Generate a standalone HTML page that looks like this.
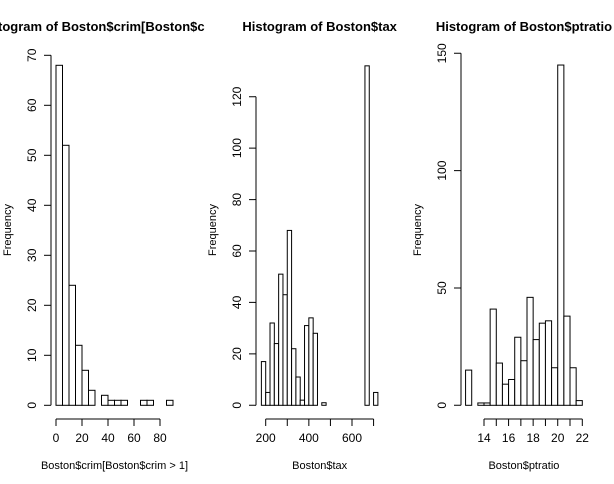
<!DOCTYPE html>
<html><head><meta charset="utf-8"><style>
body{margin:0;background:#fff}
svg{display:block;font-family:"Liberation Sans",Arial,sans-serif}
</style></head><body>
<svg id="c" width="614" height="484"></svg>
<script>
const crimBins=[0,5,10,15,20,25,30,35,40,45,50,55,60,65,70,75,80,85,90];
const crimCounts=[68,52,24,12,7,3,0,2,1,1,1,0,0,1,1,0,0,1];
const crimXTicks=[0,20,40,60,80];
const crimYTicks=[0,10,20,30,40,50,60,70];
const taxBins=[180,200,220,240,260,280,300,320,340,360,380,400,420,440,460,480,500,520,540,560,580,600,620,640,660,680,700,720];
const taxCounts=[17,5,32,24,51,43,68,22,11,2,31,34,28,0,1,0,0,0,0,0,0,0,0,0,132,0,5];
const taxXTicks=[200,300,400,500,600,700];
const taxXLabels=["200","","400","","600",""];
const taxYTicks=[0,20,40,60,80,100,120];
const ptBins=[12.5,13,13.5,14,14.5,15,15.5,16,16.5,17,17.5,18,18.5,19,19.5,20,20.5,21,21.5,22];
const ptCounts=[15,0,1,1,41,18,9,11,29,19,46,28,35,36,16,145,38,16,2];
const ptXTicks=[14,15,16,17,18,19,20,21,22];
const ptXLabels=["14","","16","","18","","20","","22"];
const ptYTicks=[0,50,100,150];

const NS="http://www.w3.org/2000/svg";
const svg=document.getElementById('c');
function mk(t,a,p){const e=document.createElementNS(NS,t);for(const k in a)e.setAttribute(k,a[k]);(p||svg).appendChild(e);return e;}

const panels=[
 {name:'crim',left:0,title:"Histogram of Boston$crim[Boston$crim > 1]",xlab:"Boston$crim[Boston$crim > 1]",bins:crimBins,counts:crimCounts,xt:crimXTicks,xl:null,yt:crimYTicks,x0:0,x1:80,px0:56,px1:160,yTop:70,pyTop:55.3,yaxis:51},
 {name:'tax',left:204.67,title:"Histogram of Boston$tax",xlab:"Boston$tax",bins:taxBins,counts:taxCounts,xt:taxXTicks,xl:taxXLabels,yt:taxYTicks,x0:200,x1:600,px0:265.7,px1:352,yTop:120,pyTop:96.7,yaxis:256},
 {name:'ptratio',left:409.33,title:"Histogram of Boston$ptratio",xlab:"Boston$ptratio",bins:ptBins,counts:ptCounts,xt:ptXTicks,xl:ptXLabels,yt:ptYTicks,x0:14,x1:22,px0:484,px1:582.3,yTop:150,pyTop:53.3,yaxis:461}
];
const py0=405.3;
panels.forEach((P,i)=>{
  const g=mk('g',{});
  
  
  const cid='clip'+i;
  const cp=mk('clipPath',{id:cid},g);mk('rect',{x:P.left,y:0,width:204.67,height:484},cp);
  g.setAttribute('clip-path','url(#'+cid+')');
  const sx=v=>P.px0+(v-P.x0)*(P.px1-P.px0)/(P.x1-P.x0);
  const sy=v=>py0-v*(py0-P.pyTop)/P.yTop;
  P.counts.forEach((c,j)=>{
    const x=sx(P.bins[j]),w=sx(P.bins[j+1])-x;
    const r=mk('rect',{x:x,y:sy(c),width:w,height:py0-sy(c),fill:'#fff',stroke:'#000','stroke-width':1},g);
    
    
  });
  const xa=mk('g',{},g);
  
  
  const xt0=sx(P.xt[0]),xt1=sx(P.xt[P.xt.length-1]);
  mk('line',{x1:xt0,x2:xt1,y1:419,y2:419,stroke:'#000'},xa);
  P.xt.forEach((t,j)=>{
    const x=sx(t);
    mk('line',{x1:x,x2:x,y1:419,y2:426,stroke:'#000'},xa);
    const lab=P.xl?P.xl[j]:String(t);
    if(lab){const tx=mk('text',{x:x,y:442,'text-anchor':'middle','font-size':12},xa);tx.textContent=lab;}
  });
  const ya=mk('g',{},g);
  
  
  mk('line',{x1:P.yaxis,x2:P.yaxis,y1:sy(P.yt[0]),y2:sy(P.yt[P.yt.length-1]),stroke:'#000'},ya);
  P.yt.forEach(t=>{
    const y=sy(t);
    mk('line',{x1:P.yaxis,x2:P.yaxis-7,y1:y,y2:y,stroke:'#000'},ya);
    const tx=mk('text',{x:0,y:0,'text-anchor':'middle','font-size':12,transform:`translate(${P.yaxis-15},${y}) rotate(-90)`},ya);
    tx.textContent=String(t);
  });
  const yl=mk('text',{'text-anchor':'middle','font-size':11,transform:`translate(${P.yaxis-40},230) rotate(-90)`},g);
  yl.textContent='Frequency';
  
  
  const cx=(sx(P.bins[0])+sx(P.bins[P.bins.length-1]))/2;
  const xl=mk('text',{x:cx,y:469,'text-anchor':'middle','font-size':11},g);
  xl.textContent=P.xlab;
  
  
  const ti=mk('text',{x:cx,y:31,'text-anchor':'middle','font-size':13,'font-weight':'bold'},g);
  ti.textContent=P.title;
  
  
});
</script>
</body></html>
